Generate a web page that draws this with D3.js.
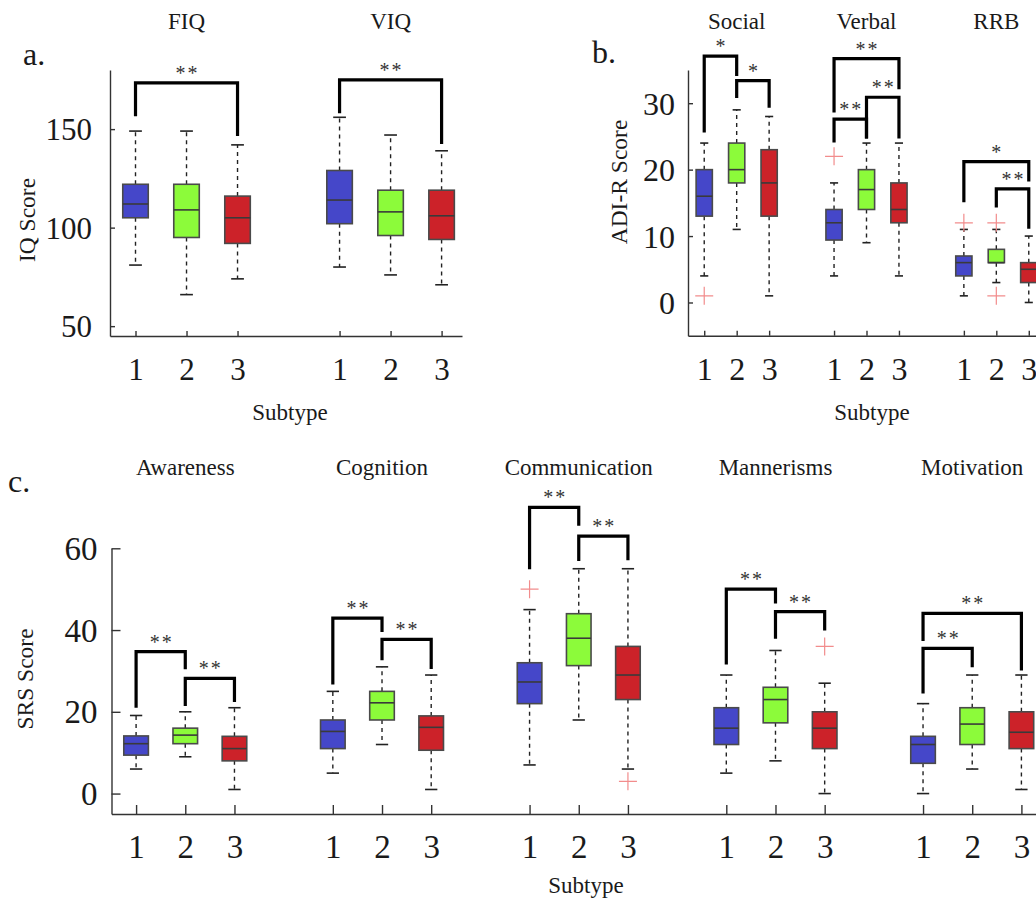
<!DOCTYPE html>
<html>
<head>
<meta charset="utf-8">
<script src="https://cdn.jsdelivr.net/npm/d3@7"></script>
<style>
  body { margin: 0; background: #fff; }
  svg { display: block; overflow: hidden; }
  text { font-family: "Liberation Serif", "Times New Roman", serif; fill: #1a1a1a; }
</style>
</head>
<body>
<svg id="chart" width="1036" height="899"></svg>
<script>
// Box stats per measure, per subtype: [lower whisker, q1, median, q3, upper whisker]
const subtypes = ["1", "2", "3"];
const subtypeColors = ["#4547c9", "#8cfb3a", "#cc2229"];

const iqMeasures = ["FIQ", "VIQ"];
const iqBoxes = [
    [[81, 105, 112, 122, 149], [66, 95, 109, 122, 149], [74, 92, 105, 116, 142]],
    [[80, 102, 114, 129, 156], [76, 96, 108, 119, 147], [71, 94, 106, 119, 139]]
];
const iqOutliers = [[[], [], []], [[], [], []]];
// [measure, from subtype, to subtype, bar value, left leg end, right leg end, label]
const iqSig = [
    [0, 0, 2, 173.5, 156.5, 146.5, "**"],
    [1, 0, 2, 175, 158, 142.5, "**"]
];
const iqTicks = [50, 100, 150];

const adiMeasures = ["Social", "Verbal", "RRB"];
const adiBoxes = [
    [[4, 13, 16, 20, 24], [11, 18, 20, 24, 29], [1, 13, 18, 23, 28]],
    [[4, 9.4, 12, 14, 18], [9, 14, 17, 20, 24], [4, 12, 14, 18, 24]],
    [[1, 4, 6, 7, 11], [3, 6, 6, 8, 11], [0, 3, 5, 6, 10]]
];
const adiOutliers = [[[1], [], []], [[22], [], []], [[12], [12, 1], []]];
const adiSig = [
    [0, 0, 1, 37.1, 25.6, 34.1, "*"],
    [0, 1, 2, 33.4, 30.8, 29.3, "*"],
    [1, 0, 2, 36.7, 28.6, 32.1, "**"],
    [1, 0, 1, 27.6, 24.1, 24.7, "**"],
    [1, 1, 2, 30.9, 24.7, 24.7, "**"],
    [2, 0, 2, 21.2, 15.1, 18.2, "*"],
    [2, 1, 2, 17.1, 14.3, 11.1, "**"]
];
const adiTicks = [0, 10, 20, 30];

const srsMeasures = ["Awareness", "Cognition", "Communication", "Mannerisms", "Motivation"];
const srsBoxes = [
    [[6, 9.4, 12.2, 14.1, 19.1], [9, 12.2, 14.3, 16, 20], [1, 8, 11, 14, 21]],
    [[5, 11, 15.2, 18, 25], [12, 18, 22.2, 25, 31], [1, 10.6, 16.2, 19, 29]],
    [[7, 22, 27.3, 32, 45], [18, 31.3, 38, 44, 55], [6, 23, 29, 36, 55]],
    [[5, 12, 16, 21, 29], [8, 17.3, 23, 26, 35], [0, 11, 16, 20, 27]],
    [[0, 7.4, 12, 14, 22], [6, 12, 17, 21, 29], [1, 11, 15, 20, 29]]
];
const srsOutliers = [
    [[], [], []], [[], [], []], [[50], [], [3]], [[], [], [36]], [[], [], []]
];
const srsSig = [
    [0, 0, 1, 34.7, 21, 30.4, "**"],
    [0, 1, 2, 28.2, 21.4, 22.4, "**"],
    [1, 0, 1, 42.9, 26.7, 39.5, "**"],
    [1, 1, 2, 37.7, 32.6, 30.5, "**"],
    [2, 0, 1, 70, 54.9, 65.5, "**"],
    [2, 1, 2, 63, 56.9, 57.1, "**"],
    [3, 0, 1, 50, 31.6, 46.5, "**"],
    [3, 1, 2, 44.5, 37.9, 39.9, "**"],
    [4, 0, 2, 44.1, 37.3, 30.1, "**"],
    [4, 0, 1, 35.5, 24.5, 30.9, "**"]
];
const srsTicks = [0, 20, 40, 60];

const svg = d3.select("#chart");

function styleAxis(sel) {
    sel.select(".domain").attr("stroke", "#333").attr("stroke-width", 1.4);
    sel.selectAll(".tick line").attr("stroke", "#333").attr("stroke-width", 1.4);
}

function drawPanel(p) {
    const g = svg.append("g");
    const x = d3.scaleLinear().domain(p.xDomain).range(p.xRange);
    const y = d3.scaleLinear().domain(p.yDomain).range(p.yRange);
    const pos = (m, s) => m * 4 + s + 1;
    const unit = x(2) - x(1);
    const bw = unit * 0.5, cw = unit * 0.25;

    // x axis
    const xTicks = d3.range(p.measures.length).flatMap(m => subtypes.map((_, s) => pos(m, s)));
    g.append("g")
        .attr("transform", `translate(0,${p.yRange[0]})`)
        .call(d3.axisBottom(x).tickValues(xTicks)
            .tickFormat(d => subtypes[(d - 1) % 4])
            .tickSizeInner(-p.tick).tickSizeOuter(0).tickPadding(0))
        .call(styleAxis)
        .selectAll("text")
        .attr("dy", null)
        .attr("y", p.xLabelDy)
        .attr("dominant-baseline", "central")
        .style("font-size", p.tickFont + "px");

    // y axis
    g.append("g")
        .attr("transform", `translate(${p.xRange[0]},0)`)
        .call(d3.axisLeft(y).tickValues(p.yTicks)
            .tickSizeInner(-p.tick).tickSizeOuter(0).tickPadding(p.tickPad))
        .call(styleAxis)
        .selectAll("text")
        .attr("dy", null)
        .attr("dominant-baseline", "central")
        .style("font-size", p.tickFont + "px");

    // boxes
    p.boxes.forEach((group, m) => {
        group.forEach((st, s) => {
            const cx = x(pos(m, s));
            const [lo, q1, med, q3, hi] = st;
            const bg = g.append("g");
            [[q3, hi], [q1, lo]].forEach(([a, b]) => {
                bg.append("line")
                    .attr("x1", cx).attr("x2", cx)
                    .attr("y1", y(a)).attr("y2", y(b))
                    .attr("stroke", "#222").attr("stroke-width", 1.4)
                    .attr("stroke-dasharray", "4,4");
                bg.append("line")
                    .attr("x1", cx - cw / 2).attr("x2", cx + cw / 2)
                    .attr("y1", y(b)).attr("y2", y(b))
                    .attr("stroke", "#222").attr("stroke-width", 1.6);
            });
            bg.append("rect")
                .attr("x", cx - bw / 2).attr("y", y(q3))
                .attr("width", bw).attr("height", y(q1) - y(q3))
                .attr("fill", subtypeColors[s])
                .attr("stroke", "#4a4a4a").attr("stroke-width", 1.6);
            bg.append("line")
                .attr("x1", cx - bw / 2).attr("x2", cx + bw / 2)
                .attr("y1", y(med)).attr("y2", y(med))
                .attr("stroke", "#3a3a3a").attr("stroke-width", 1.6);
            p.outliers[m][s].forEach(v => {
                bg.append("path")
                    .attr("d", `M${cx - 9},${y(v)}H${cx + 9}M${cx},${y(v) - 9}V${y(v) + 9}`)
                    .attr("stroke", "#f28c8c").attr("stroke-width", 1.2)
                    .attr("fill", "none");
            });
        });
    });

    // significance brackets
    p.sig.forEach(([m, s1, s2, bar, l1, l2, label]) => {
        const x1 = x(pos(m, s1)), x2 = x(pos(m, s2));
        g.append("path")
            .attr("d", `M${x1},${y(l1)}V${y(bar)}H${x2}V${y(l2)}`)
            .attr("fill", "none").attr("stroke", "#000")
            .attr("stroke-width", 3.2);
        g.append("text")
            .attr("x", (x1 + x2) / 2 + 1).attr("y", y(bar) - 3)
            .attr("text-anchor", "middle")
            .style("font-size", "20px").style("letter-spacing", "2px")
            .style("fill", "#333")
            .text(label);
    });

    // measure titles
    p.measures.forEach((name, m) => {
        g.append("text")
            .attr("x", x(pos(m, 1))).attr("y", p.titleY)
            .attr("text-anchor", "middle")
            .style("font-size", "23px")
            .text(name);
    });

    // axis labels and panel letter
    g.append("text")
        .attr("transform", `translate(${p.yLabel[0]},${p.yLabel[1]}) rotate(-90)`)
        .attr("text-anchor", "middle").attr("dominant-baseline", "central")
        .style("font-size", "23.5px")
        .text(p.yTitle);
    g.append("text")
        .attr("x", p.xLabel[0]).attr("y", p.xLabel[1])
        .attr("text-anchor", "middle")
        .style("font-size", "23px")
        .text("Subtype");
    g.append("text")
        .attr("x", p.letter[0]).attr("y", p.letter[1])
        .style("font-size", "32px")
        .text(p.letter[2]);
}

drawPanel({
    measures: iqMeasures, boxes: iqBoxes, outliers: iqOutliers, sig: iqSig, yTicks: iqTicks,
    xDomain: [0.5, 7.4], xRange: [110, 462], yDomain: [45, 180], yRange: [336, 70],
    tick: 5, tickPad: 18, tickFont: 31, xLabelDy: 33, titleY: 29,
    yTitle: "IQ Score", yLabel: [27, 220], xLabel: [290, 420], letter: [23, 65, "a."]
});

drawPanel({
    measures: adiMeasures, boxes: adiBoxes, outliers: adiOutliers, sig: adiSig, yTicks: adiTicks,
    xDomain: [0.5, 11.5], xRange: [688, 1045], yDomain: [-5, 35], yRange: [335.7, 70],
    tick: 5, tickPad: 13, tickFont: 32, xLabelDy: 33, titleY: 29,
    yTitle: "ADI-R Score", yLabel: [619, 182], xLabel: [872, 420], letter: [592, 63, "b."]
});

drawPanel({
    measures: srsMeasures, boxes: srsBoxes, outliers: srsOutliers, sig: srsSig, yTicks: srsTicks,
    xDomain: [0.5, 19.5], xRange: [111.5, 1046], yDomain: [-5, 60], yRange: [814, 548.3],
    tick: 9, tickPad: 14, tickFont: 33, xLabelDy: 33, titleY: 475,
    yTitle: "SRS Score", yLabel: [25, 679], xLabel: [586, 893], letter: [8, 492, "c."]
});
</script>
</body>
</html>
